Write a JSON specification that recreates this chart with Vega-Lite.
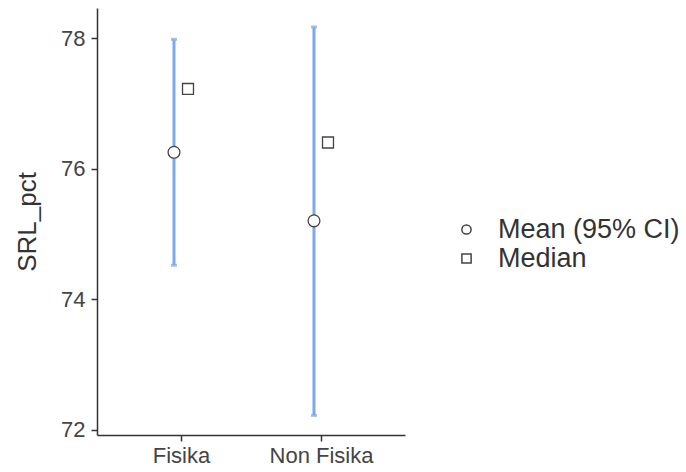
{
  "$schema": "https://vega.github.io/schema/vega-lite/v6.json",
  "width": 308,
  "height": 427,
  "autosize": {"type": "none"},
  "padding": {"left": 97, "top": 8, "right": 281, "bottom": 37},
  "background": "white",
  "config": {
    "view": {"stroke": null},
    "font": "Liberation Sans",
    "axis": {
      "grid": false,
      "domainColor": "#333333",
      "domainWidth": 1.5,
      "tickColor": "#333333",
      "tickWidth": 1.5,
      "tickSize": 6,
      "labelColor": "#444444",
      "labelFontSize": 22,
      "titleColor": "#333333",
      "titleFontSize": 26,
      "titleFontWeight": "normal"
    }
  },
  "data": {
    "values": [
      {"group": "Fisika", "mean": 76.25, "lo": 74.52, "hi": 77.98, "median": 77.22},
      {"group": "Non Fisika", "mean": 75.2, "lo": 72.22, "hi": 78.17, "median": 76.4}
    ]
  },
  "encoding": {
    "x": {
      "field": "group",
      "type": "nominal",
      "scale": {"type": "point", "padding": 0.6},
      "axis": {"title": null, "labelAngle": 0, "labelPadding": 4}
    }
  },
  "layer": [
    {
      "mark": {"type": "rule", "color": "#7DA8EC", "strokeWidth": 3, "xOffset": -7},
      "encoding": {
        "y": {
          "field": "lo",
          "type": "quantitative",
          "scale": {"domain": [71.92, 78.46], "nice": false, "zero": false},
          "axis": {"title": "SRL_pct", "values": [72, 74, 76, 78], "format": "d", "labelPadding": 6, "titlePadding": 20}
        },
        "y2": {"field": "hi"}
      }
    },
    {
      "mark": {"type": "tick", "color": "#7DA8EC", "thickness": 3, "size": 6, "orient": "horizontal", "xOffset": -7},
      "encoding": {"y": {"field": "lo", "type": "quantitative"}}
    },
    {
      "mark": {"type": "tick", "color": "#7DA8EC", "thickness": 3, "size": 6, "orient": "horizontal", "xOffset": -7},
      "encoding": {"y": {"field": "hi", "type": "quantitative"}}
    },
    {
      "transform": [{"calculate": "'Mean (95% CI)'", "as": "stat"}],
      "mark": {"type": "point", "filled": false, "color": "#444444", "fill": "white", "strokeWidth": 1.3, "size": 140, "opacity": 1, "xOffset": -7},
      "encoding": {
        "y": {"field": "mean", "type": "quantitative"},
        "shape": {
          "field": "stat",
          "type": "nominal",
          "scale": {"domain": ["Mean (95% CI)", "Median"], "range": ["circle", "square"]},
          "legend": {
            "title": null,
            "orient": "none",
            "legendX": 356,
            "legendY": 208,
            "labelFontSize": 27,
            "labelColor": "#333333",
            "labelLimit": 0,
            "symbolSize": 85,
            "rowPadding": 1,
            "labelOffset": 18,
            "encode": {
              "symbols": {
                "update": {
                  "stroke": {"value": "#555555"},
                  "fill": {"value": "white"},
                  "strokeWidth": {"value": 1.3},
                  "opacity": {"value": 1},
                  "fillOpacity": {"value": 1},
                  "strokeOpacity": {"value": 1}
                }
              }
            }
          }
        }
      }
    },
    {
      "transform": [{"calculate": "'Median'", "as": "stat"}],
      "mark": {"type": "point", "filled": false, "color": "#444444", "fill": "white", "strokeWidth": 1.3, "size": 120, "opacity": 1, "xOffset": 7},
      "encoding": {
        "y": {"field": "median", "type": "quantitative"},
        "shape": {"field": "stat", "type": "nominal"}
      }
    }
  ]
}
